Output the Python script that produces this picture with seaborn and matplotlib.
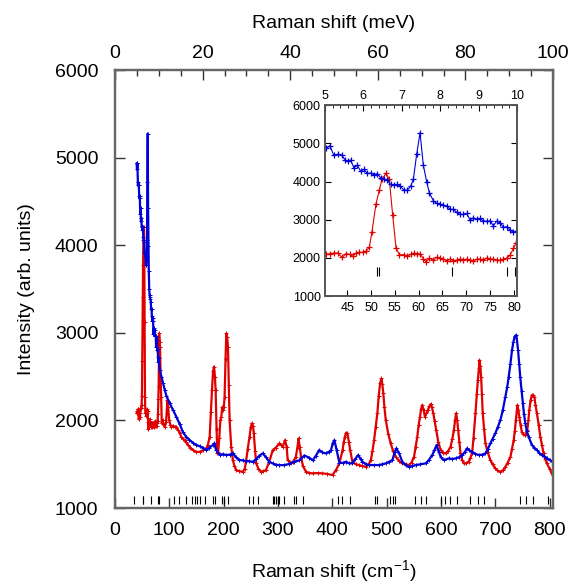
import matplotlib
matplotlib.use('Agg')
import matplotlib.pyplot as plt
import seaborn as sns
import numpy as np
import pandas as pd
from matplotlib.ticker import MultipleLocator

# ---- data ----
# red spectrum (Raman shift in cm-1, intensity)
red_cm = [39.8, 40.54, 41.38, 42.22, 43.06, 43.9, 44.74, 45.58, 46.15, 46.84, 47.54, 48.25, 48.94, 49.64,
          50.2, 51.04, 51.74, 52.3, 53.15, 53.84, 54.55, 55.25, 55.94, 56.93, 57.62, 58.33, 59.03, 59.72,
          60.29, 60.98, 61.55, 62.24, 63.09, 63.79, 64.49, 65.19, 65.89, 66.59, 67.29, 67.99, 68.69, 69.39,
          70.09, 70.79, 71.49, 72.19, 72.89, 73.59, 74.29, 74.99, 75.69, 76.39, 77.09, 77.79, 78.49, 79.19,
          79.89, 80.45, 81.3, 82.2, 83, 84, 85, 86.2, 87.5, 89, 91.7, 94, 96.6, 98, 99.7, 102, 104, 107, 110,
          113, 116, 119, 122, 125, 128, 131, 134.5, 139, 143.7, 150, 156, 162, 168, 171, 174.3, 176.5, 178.6,
          180.5, 182.3, 184, 185.3, 187, 188.4, 190, 192, 194, 195.7, 197.5, 198.8, 200.3, 201.8, 203.5, 205,
          206.5, 208, 209.5, 211, 214, 217, 220, 223, 229, 235.5, 239, 241.6, 244.5, 247.7, 250, 252, 254,
          255.6, 258, 260, 264, 269, 273, 278, 284, 290.5, 296, 302.8, 306, 309, 313, 316, 318, 324, 328, 333,
          336, 338, 340, 342.5, 346, 351.7, 358, 364, 373, 382, 391, 400.5, 406.8, 413, 419, 421, 423.3,
          425.5, 428, 430.5, 433, 437, 443, 449.5, 455, 461.8, 467, 471, 474, 477, 480, 483, 485.5, 488,
          490.5, 492, 494, 496, 498.5, 503, 507.6, 512, 516.8, 523, 529, 535, 541, 546, 550.5, 553.5, 556.5,
          559, 561.5, 563.5, 565.7, 568, 570.6, 573, 576, 578.5, 581, 583.5, 586, 588.5, 591.4, 595, 599.4,
          604, 608.6, 613, 617.7, 621, 623.9, 626, 628, 630, 631.8, 634, 636, 639, 642, 646, 651, 654, 657.4,
          660, 663.6, 666, 668, 670, 671, 672.5, 674, 675.5, 677, 679.5, 682, 686, 691, 695, 700, 704, 709.5,
          714, 718.7, 723, 728, 731, 734, 736, 738, 740.7, 742.5, 744.4, 746.5, 749, 751.5, 754, 756.5, 759,
          761, 762.7, 765, 767.5, 770, 772, 774, 776.7, 780, 783, 786, 789, 792, 795, 800, 804, 806]
red_int = [2081, 2091, 2108, 2126, 2126, 2013, 2108, 2091, 2039, 2126, 2143, 2143, 2178, 2274,
           2684, 3408, 3775, 4055, 4212, 4055, 3121, 2265, 2082, 2082, 2047, 2091, 2126, 2108,
           2108, 1978, 1899, 1986, 1942, 2013, 1995, 1968, 1925, 1968, 1925, 1942, 1968, 1942,
           1968, 1942, 1925, 1968, 1968, 1942, 1995, 1968, 1968, 1942, 1942, 1968, 1995, 2073,
           2248, 2396, 2994, 2900, 2841, 2500, 2271, 1967, 2000, 1960, 1928, 1980, 2233, 2150, 2005, 1950, 1928, 1940, 1928,
           1928, 1890, 1860, 1814, 1790, 1776, 1750, 1719, 1690, 1662, 1640, 1643, 1660, 1681, 1720, 1814, 2100, 2347,
           2560, 2613, 2500, 2347, 1900, 1624, 1640, 1800, 2000, 2042, 2150, 2119, 2150, 2271, 2700, 2994,
           2950, 2841, 2400, 2005, 1700, 1548, 1480, 1434, 1420, 1415, 1450, 1548, 1680, 1814, 1920, 1967, 1940,
           1852, 1650, 1510, 1450, 1415, 1420, 1434, 1530, 1662, 1690, 1738, 1720, 1700, 1776, 1700, 1548, 1510, 1530, 1586,
           1700, 1795, 1700, 1586, 1480, 1415, 1400, 1396, 1400, 1396, 1390, 1377, 1434, 1510, 1662, 1750, 1814,
           1860, 1852, 1760, 1662, 1529, 1500, 1491, 1480, 1472, 1500, 1548, 1650, 1776, 1930, 2081, 2280, 2423,
           2480, 2420, 2309, 2150, 2005, 1850, 1738, 1650, 1586, 1540, 1510, 1500, 1491, 1520, 1586, 1700, 1814,
           1950, 2042, 2130, 2176, 2120, 2042, 2080, 2119, 2160, 2187, 2150, 2081, 1990, 1890, 1760, 1662,
           1630, 1624, 1650, 1700, 1790, 1890, 2000, 2081, 2000, 1890, 1750, 1624, 1550, 1510, 1510, 1529, 1570, 1624,
           1800, 2081, 2300, 2461, 2600, 2689, 2620, 2499, 2300, 2081, 1900, 1738, 1640, 1548, 1500, 1453, 1430, 1415,
           1430, 1472, 1520, 1586, 1680, 1776, 1880, 2005, 2176, 2120, 2042, 1950, 1871, 1840, 1833, 1850, 1890,
           2000, 2119, 2230, 2290, 2290, 2271, 2180, 2081, 1950, 1814, 1720, 1624, 1560, 1510, 1450, 1396, 1380]

# blue spectrum
blue_cm = [39.8, 40.54, 41.38, 42.22, 43.06, 43.9, 44.6, 45.16, 45.72, 46.42, 47.12, 47.82, 48.52, 49.22,
           49.92, 50.62, 51.32, 52.02, 52.72, 53.42, 54.12, 54.82, 55.52, 56.08, 56.92, 57.62, 58.33, 58.89,
           59.59, 60.29, 60.98, 61.68, 62.24, 63.09, 63.79, 64.49, 65.19, 65.89, 66.59, 67.29, 67.99, 68.69,
           69.39, 70.09, 70.79, 71.49, 72.19, 72.89, 73.59, 74.29, 74.99, 75.69, 76.39, 77.09, 77.79, 78.49,
           79.19, 79.89, 80.59, 82.6, 85.6, 88.7, 91.7, 94.8, 100.9, 107, 113, 119, 125, 131, 137, 143.7, 150,
           156, 162, 168, 174, 180, 183, 186, 192.7, 199, 205, 211, 217, 223, 229, 235, 241.5, 247, 253.8, 260,
           266, 272, 278, 284, 290, 296, 302.8, 312, 321, 330, 339.4, 348.6, 357.8, 364, 370, 376, 382, 388.4,
           394, 397.6, 401, 404, 408, 413, 419, 425, 431, 437, 442, 447.7, 452, 455.6, 462, 468, 477, 486, 492,
           498.5, 505, 510.7, 515, 518, 523, 529, 535, 541, 547, 553.5, 562, 572, 578, 584, 588, 592, 596, 600,
           605.5, 614.7, 621, 627, 633, 639, 644, 648, 652, 657.4, 663, 670, 676, 682, 686, 691, 695, 700, 705,
           709.5, 714, 718.7, 722, 724.8, 728, 730.9, 733.5, 735.8, 738.9, 742, 744, 746, 748.5, 751, 753,
           755.4, 758, 761.5, 767.5, 772, 776.7, 781, 786, 790, 795, 800, 806]
blue_int = [4935, 4866, 4936, 4683, 4718, 4683, 4561, 4535, 4561, 4360, 4421, 4273, 4317, 4212,
            4221, 4177, 4203, 4098, 4055, 4037, 3924, 3898, 3924, 3880, 3775, 3775, 3880, 4055,
            4718, 5276, 4430, 3994, 3706, 3497, 3427, 3409, 3383, 3357, 3270, 3270, 3191, 3139,
            3139, 3165, 2990, 3051, 3008, 3034, 2964, 2964, 2964, 2842, 2964, 2921, 2799, 2816,
            2729, 2668, 2712, 2575, 2499, 2423, 2347, 2280, 2195, 2119, 2042, 1960, 1870, 1814, 1780, 1745, 1720,
            1705, 1690, 1662, 1690, 1719, 1740, 1662, 1610, 1615, 1605, 1610, 1624, 1580, 1548, 1545, 1535, 1535, 1529, 1560,
            1600, 1624, 1580, 1529, 1510, 1495, 1491, 1490, 1505, 1530, 1545, 1600, 1575, 1545, 1600, 1662, 1635, 1624,
            1643, 1662, 1740, 1776, 1662, 1520, 1515, 1529, 1510, 1510, 1560, 1605, 1560, 1529, 1500, 1491, 1491, 1491, 1500,
            1510, 1530, 1548, 1640, 1681, 1624, 1529, 1490, 1472, 1480, 1491, 1500, 1510, 1550, 1605, 1660, 1719, 1643, 1580,
            1548, 1567, 1560, 1567, 1580, 1605, 1640, 1681, 1660, 1643, 1620, 1605, 1610, 1624, 1670, 1738, 1790, 1852, 1930,
            2005, 2120, 2271, 2380, 2499, 2650, 2804, 2900, 2960, 2975, 2804, 2650, 2499, 2340, 2195, 2070,
            1967, 1880, 1814, 1719, 1690, 1662, 1630, 1605, 1590, 1567, 1550, 1529]

# calculated mode positions (the short vertical marks)
mode_cm = [35.5, 51.2, 51.7, 67, 78.6, 80.2, 108, 118, 130, 142.5, 147, 151, 156, 165, 180, 184, 197.5,
           200.6, 208, 246, 254, 263, 290.5, 293.6, 296.6, 299.7, 302.8, 312, 329, 333, 347, 411, 417, 432,
           479, 483, 507, 511, 515, 552, 563, 572, 601, 608, 617, 629, 653, 668, 680, 745, 757, 770, 798]

main_yticks = [1000, 2000, 3000, 4000, 5000, 6000]
main_xticks = [0, 100, 200, 300, 400, 500, 600, 700, 800]
mev_ticks = [0, 20, 40, 60, 80, 100]
inset_xticks = [45, 50, 55, 60, 65, 70, 75, 80]
inset_mev_ticks = [5, 6, 7, 8, 9, 10]

CM_PER_MEV = 8.0655
RED = '#e00000'
BLUE = '#0000d8'

sns.set_theme(style='ticks')
plt.rcParams['font.family'] = ['Liberation Sans', 'DejaVu Sans']
plt.rcParams['mathtext.fontset'] = 'custom'
plt.rcParams['mathtext.rm'] = 'Liberation Sans'
plt.rcParams['mathtext.default'] = 'regular'
plt.rcParams['text.color'] = 'black'
plt.rcParams['axes.labelcolor'] = 'black'
plt.rcParams['xtick.color'] = 'black'
plt.rcParams['ytick.color'] = 'black'
plt.rcParams['xtick.labelcolor'] = 'black'
plt.rcParams['ytick.labelcolor'] = 'black'

red_df = pd.DataFrame({'cm': red_cm, 'I': red_int})
blue_df = pd.DataFrame({'cm': blue_cm, 'I': blue_int})

fig = plt.figure(figsize=(5.72, 5.84), dpi=100)
ax = fig.add_axes([0.201, 0.130, 0.766, 0.750])

sns.lineplot(data=red_df, x='cm', y='I', ax=ax, color=RED, lw=1.6, marker='+', markersize=3.5,
             markeredgewidth=0.7, markeredgecolor=RED, sort=False, estimator=None)
sns.lineplot(data=blue_df, x='cm', y='I', ax=ax, color=BLUE, lw=1.6, marker='+', markersize=3.5,
             markeredgewidth=0.7, markeredgecolor=BLUE, sort=False, estimator=None)
ax.vlines(mode_cm, 1050, 1135, color='black', lw=0.8)

ax.set_xlim(0, 100 * CM_PER_MEV)
ax.set_ylim(1000, 6000)
ax.set_xticks(main_xticks)
ax.set_yticks(main_yticks)
ax.set_xlabel('Raman shift (cm$^{-1}$)', fontsize=14, labelpad=14)
ax.set_ylabel('Intensity (arb. units)', fontsize=14, labelpad=14)

top = ax.twiny()
top.set_xlim(0, 100)
top.set_xticks(mev_ticks)
top.xaxis.set_minor_locator(MultipleLocator(5))
top.set_xlabel('Raman shift (meV)', fontsize=14, labelpad=12)
top.tick_params(axis='x', which='major', direction='in', length=7, width=1, labelsize=14, pad=6, color='#333333')
top.tick_params(axis='x', which='minor', direction='in', length=4, width=1, color='#333333')

ax.tick_params(axis='x', which='both', direction='in', length=7, width=1, labelsize=14, pad=10,
               bottom=True, top=False, color='#333333')
ax.tick_params(axis='y', which='both', direction='in', length=7, width=1, labelsize=14, pad=12,
               left=True, right=True, color='#333333')
for a in (ax, top):
    for s in a.spines.values():
        s.set_visible(True)
        s.set_color('#666666')
        s.set_linewidth(1.6)

# ---- inset ----
ins = fig.add_axes([0.568, 0.493, 0.336, 0.327])
ins.set_facecolor('white')
sns.lineplot(data=red_df, x='cm', y='I', ax=ins, color=RED, lw=0.8, marker='+', markersize=4,
             markeredgewidth=0.9, markeredgecolor=RED, sort=False, estimator=None)
sns.lineplot(data=blue_df, x='cm', y='I', ax=ins, color=BLUE, lw=0.8, marker='+', markersize=4,
             markeredgewidth=0.9, markeredgecolor=BLUE, sort=False, estimator=None)
ins.vlines(mode_cm, 1530, 1750, color='black', lw=0.8)
ins.set_xlim(5 * CM_PER_MEV, 10 * CM_PER_MEV)
ins.set_ylim(1000, 6000)
ins.set_xticks(inset_xticks)
ins.set_yticks(main_yticks)
ins.set_xlabel('')
ins.set_ylabel('')
ins.tick_params(axis='x', direction='in', length=4, width=0.8, labelsize=9, pad=4, bottom=True, top=False)
ins.tick_params(axis='y', direction='in', length=4, width=0.8, labelsize=9, pad=3, left=True, right=True)

ins_top = ins.twiny()
ins_top.set_xlim(5, 10)
ins_top.set_xticks(inset_mev_ticks)
ins_top.xaxis.set_minor_locator(MultipleLocator(0.2))
ins_top.tick_params(axis='x', which='major', direction='in', length=4, width=0.8, labelsize=9, pad=2)
ins_top.tick_params(axis='x', which='minor', direction='in', length=2, width=0.6)
ins.tick_params(axis='x', bottom=True, top=False)
for a in (ins, ins_top):
    for s in a.spines.values():
        s.set_visible(True)
        s.set_color('#555555')
        s.set_linewidth(1.2)

fig.savefig('out.png', dpi=100)
